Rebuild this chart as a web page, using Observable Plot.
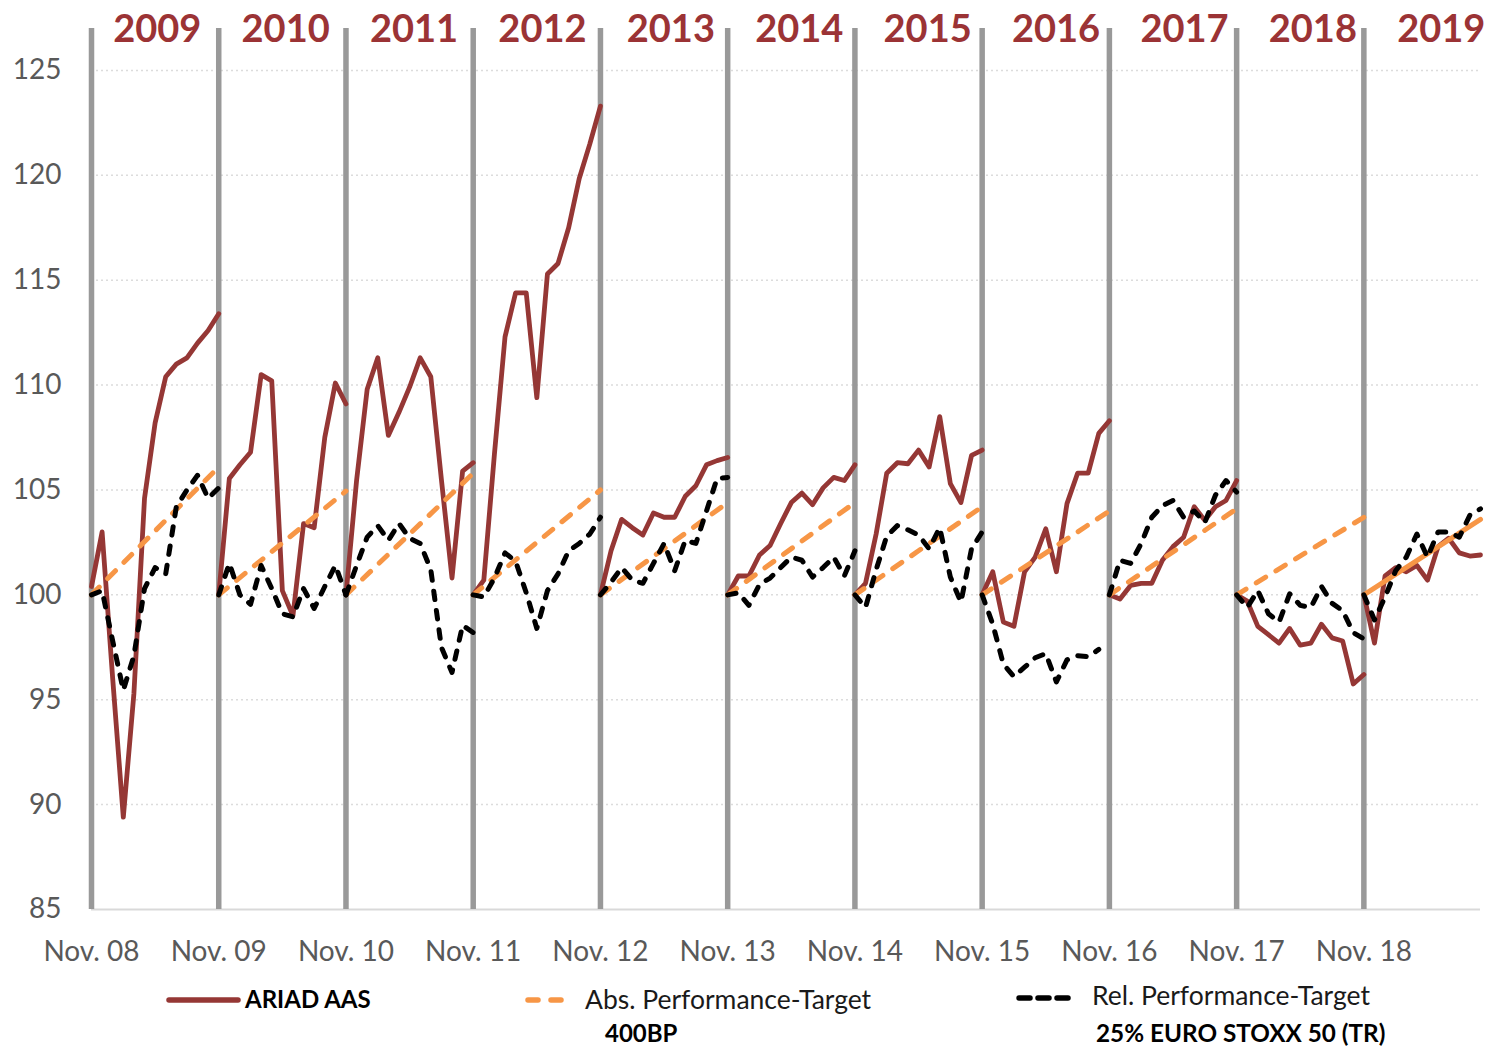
<!DOCTYPE html>
<html>
<head>
<meta charset="utf-8">
<script src="https://cdn.jsdelivr.net/npm/d3@7"></script>
<script src="https://cdn.jsdelivr.net/npm/@observablehq/plot@0.6"></script>
<style>
  html, body { margin: 0; padding: 0; background: #fff; }
  #wrap { position: relative; width: 1489px; height: 1046px; font-family: Lato, "Open Sans", sans-serif; }
  #chart { position: absolute; left: 0; top: 0; }
  .lg { position: absolute; white-space: nowrap; color: #000; }
  .lg svg { position: absolute; }
</style>
</head>
<body>
<div id="wrap">
  <div id="chart"></div>
  <div id="legend"></div>
</div>
<script>
// ---- data ----
const yearLabels = ["2009","2010","2011","2012","2013","2014","2015","2016","2017","2018","2019"];
const xTickLabels = ["Nov. 08","Nov. 09","Nov. 10","Nov. 11","Nov. 12","Nov. 13","Nov. 14","Nov. 15","Nov. 16","Nov. 17","Nov. 18"];
const yTicks = [85, 90, 95, 100, 105, 110, 115, 120, 125];

// ARIAD AAS, monthly, each year re-based to 100 in November
const ariad = [
  [100.4, 103.0, 96.0, 89.4, 95.3, 104.6, 108.2, 110.4, 111.0, 111.3, 112.0, 112.6, 113.4],
  [100, 105.55, 106.2, 106.8, 110.5, 110.2, 100.2, 99.0, 103.4, 103.2, 107.5, 110.1, 109.1],
  [100, 105.45, 109.8, 111.3, 107.6, 108.7, 109.9, 111.3, 110.4, 105.5, 100.8, 105.9, 106.3],
  [100, 100.7, 106.7, 112.3, 114.4, 114.4, 109.4, 115.3, 115.8, 117.5, 119.85, 121.5, 123.3],
  [100, 102.1, 103.6, 103.2, 102.85, 103.9, 103.7, 103.7, 104.7, 105.2, 106.2, 106.4, 106.55],
  [100, 100.9, 100.9, 101.9, 102.35, 103.4, 104.4, 104.85, 104.3, 105.1, 105.6, 105.45, 106.2],
  [100, 100.55, 102.9, 105.8, 106.3, 106.25, 106.9, 106.1, 108.5, 105.3, 104.4, 106.65, 106.9],
  [100, 101.1, 98.7, 98.5, 101.1, 101.8, 103.15, 101.1, 104.35, 105.8, 105.8, 107.7, 108.3],
  [100, 99.8, 100.45, 100.55, 100.55, 101.65, 102.3, 102.75, 104.2, 103.55, 104.2, 104.5, 105.45],
  [100, 99.7, 98.5, 98.1, 97.7, 98.4, 97.6, 97.7, 98.6, 97.95, 97.8, 95.75, 96.2],
  [100, 97.7, 100.9, 101.3, 101.1, 101.4, 100.7, 102.3, 102.7, 102.0, 101.85, 101.9]
];

// Rel. Performance-Target (25% EURO STOXX 50 TR), monthly
const relTarget = [
  [100, 100.2, 97.8, 95.45, 97.1, 100.3, 101.3, 101.0, 104.2, 105.0, 105.7, 104.6, 105.1],
  [100, 101.5, 100.0, 99.55, 101.4, 100.3, 99.1, 98.95, 100.3, 99.35, 100.4, 101.4, 100],
  [100, 101.4, 102.75, 103.3, 102.6, 103.4, 102.7, 102.45, 101.2, 97.5, 96.3, 98.55, 98.2],
  [100, 99.9, 100.8, 102.0, 101.6, 100.1, 98.4, 100.2, 101.0, 102.1, 102.45, 102.9, 103.7],
  [100, 100.6, 101.3, 100.7, 100.55, 101.5, 102.45, 101.15, 102.6, 102.45, 104.0, 105.55, 105.6],
  [100, 100.1, 99.5, 100.5, 100.8, 101.3, 101.8, 101.65, 100.85, 101.3, 101.8, 100.9, 102.1],
  [100, 99.4, 101.2, 102.8, 103.3, 103.1, 102.85, 102.2, 103.2, 100.85, 99.65, 102.2, 103.0],
  [100, 98.6, 96.7, 96.1, 96.55, 97.0, 97.2, 95.85, 96.9, 97.1, 97.05, 97.4],
  [100, 101.65, 101.5, 102.45, 103.7, 104.25, 104.5, 103.7, 104.0, 103.45, 104.75, 105.45, 104.9],
  [100, 99.4, 100.2, 99.1, 98.7, 100.05, 99.5, 99.4, 100.4, 99.6, 99.25, 98.2, 97.9],
  [100, 98.8, 99.9, 101.15, 101.8, 102.9, 101.8, 103.0, 103.0, 102.75, 103.8, 104.1]
];

// Abs. Performance-Target (400BP): start (100) and end value of each yearly segment
const absStart = [100, 100, 100, 100, 100, 100, 100, 100, 100, 100, 100];
const absEnd   = [106.1, 104.95, 105.8, 105.0, 104.4, 104.4, 104.2, 104.0, 104.1, 103.7, 103.6];
const absMonths = [12, 12, 12, 12, 12, 12, 12, 12, 12, 12, 11];

// ---- build tables ----
const toRows = (series) => series.flatMap((arr, k) => arr.map((v, i) => ({m: 12 * k + i, v, seg: k})));
const ariadRows = toRows(ariad);
const relRows = toRows(relTarget);
const absRows = absStart.flatMap((s, k) => [
  {m: 12 * k, v: s, seg: k},
  {m: 12 * k + absMonths[k], v: absEnd[k], seg: k}
]);
const yearStarts = xTickLabels.map((_, i) => 12 * i);

const RED = "#953735", ORANGE = "#f79646", YEARRED = "#9b3335";

const chart = Plot.plot({
  width: 1489,
  height: 980,
  marginLeft: 91,
  marginRight: 9,
  marginTop: 28,
  marginBottom: 71,
  style: {fontFamily: "Lato, 'Open Sans', sans-serif", color: "#595959", background: "#fff", overflow: "visible"},
  x: {domain: [0, 131], label: null},
  y: {domain: [85, 127], label: null},
  marks: [
    Plot.ruleY(yTicks.filter(d => d > 85), {stroke: "#dcdcdc", strokeWidth: 1.5, strokeDasharray: "2,3"}),
    Plot.ruleY([85], {stroke: "#d9d9d9", strokeWidth: 2}),
    Plot.ruleX(yearStarts, {stroke: "#999999", strokeWidth: 5.5}),
    Plot.line(ariadRows, {x: "m", y: "v", z: "seg", stroke: RED, strokeWidth: 4.8, strokeLinejoin: "round", strokeLinecap: "round"}),
    Plot.line(absRows.filter(d => d.seg < 10), {x: "m", y: "v", z: "seg", stroke: ORANGE, strokeWidth: 5, strokeDasharray: "11,12", strokeLinecap: "round"}),
    Plot.line(absRows.filter(d => d.seg === 10), {x: "m", y: "v", z: "seg", stroke: ORANGE, strokeWidth: 5}),
    Plot.line(relRows, {x: "m", y: "v", z: "seg", stroke: "#000", strokeWidth: 5, strokeDasharray: "8.5,11", strokeLinecap: "round", strokeLinejoin: "round"}),
    Plot.text(yearLabels, {
      x: (d, i) => 12 * i + 6.2 + 0.11 * i,
      y: () => 127,
      text: d => d,
      fill: YEARRED,
      fontSize: 38,
      fontWeight: "bold",
      lineAnchor: "middle",
      dy: 1.5
    }),
    Plot.axisY({ticks: yTicks, tickSize: 0, tickPadding: 30, fontSize: 28, label: null, tickFormat: d => String(d)}),
    Plot.axisX({ticks: yearStarts, tickSize: 0, tickPadding: 32, fontSize: 28, label: null, tickFormat: d => xTickLabels[d / 12]})
  ]
});
document.getElementById("chart").appendChild(chart);

// ---- legend (HTML below the SVG) ----
const legend = document.getElementById("legend");
function item(left, top, html, style) {
  const d = document.createElement("div");
  d.className = "lg";
  d.style.left = left + "px";
  d.style.top = top + "px";
  Object.assign(d.style, style || {});
  d.innerHTML = html;
  legend.appendChild(d);
}
item(166, 990, `<svg width="76" height="20"><line x1="3" y1="10" x2="72" y2="10" stroke="${RED}" stroke-width="5.5" stroke-linecap="round"/></svg>`);
item(245, 984, "ARIAD AAS", {fontSize: "24px", fontWeight: "bold"});
item(525, 990, `<svg width="44" height="20"><line x1="3" y1="10" x2="42" y2="10" stroke="${ORANGE}" stroke-width="5.5" stroke-dasharray="10,13" stroke-linecap="round"/></svg>`);
item(585, 983, "Abs. Performance-Target", {fontSize: "26.5px", color: "#1a1a1a"});
item(605, 1018, "400BP", {fontSize: "24px", fontWeight: "bold"});
item(1016, 988, `<svg width="58" height="20"><line x1="3" y1="10" x2="56" y2="10" stroke="#000" stroke-width="5.5" stroke-dasharray="11,8" stroke-linecap="round"/></svg>`);
item(1092, 979, "Rel. Performance-Target", {fontSize: "26.5px", color: "#1a1a1a"});
item(1096, 1018, "25% EURO STOXX 50 (TR)", {fontSize: "24.3px", fontWeight: "bold"});
</script>
</body>
</html>
